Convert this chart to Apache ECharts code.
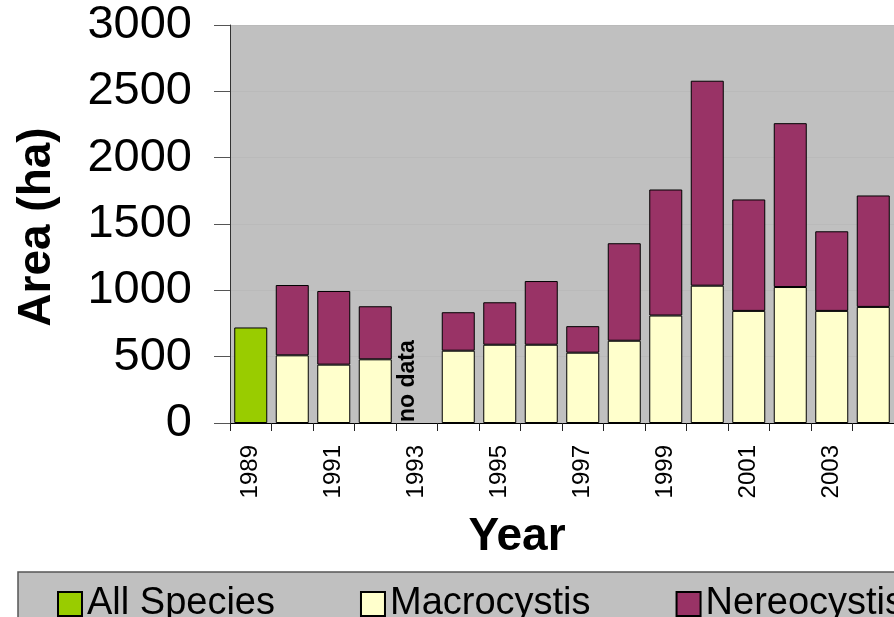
<!DOCTYPE html>
<html>
<head>
<meta charset="utf-8">
<script src="https://cdn.jsdelivr.net/npm/echarts@6/dist/echarts.min.js"></script>
<style>
  html, body { margin: 0; padding: 0; background: #ffffff; }
  #chart { width: 894px; height: 617px; }
</style>
</head>
<body>
<div id="chart"></div>
<script>
// Kelp canopy area by year (ha)
const years = ['1989', '1990', '1991', '1992', '1993', '1994', '1995', '1996',
               '1997', '1998', '1999', '2000', '2001', '2002', '2003', '2004'];
const allSpecies  = [720, null, null, null, null, null, null, null, null, null, null, null, null, null, null, null];
const macrocystis = [null, 510, 440, 480, null, 545, 590, 590, 530, 620, 810, 1035, 845, 1025, 845, 875];
const nereocystis = [null, 530, 555, 400, null, 290, 320, 480, 200, 735, 950, 1545, 840, 1235, 600, 840];
const noDataYear = '1993';
const yTicks = { min: 0, max: 3000, step: 500 };

const FONT = '"Liberation Sans", Arial, Helvetica, sans-serif';
const chart = echarts.init(document.getElementById('chart'));

const toData = arr => arr.map(v => (v === null ? '-' : v));
const barStyle = color => ({ color: color, borderColor: '#000000', borderWidth: 1 });

chart.setOption({
  animation: false,
  backgroundColor: '#ffffff',
  textStyle: { fontFamily: FONT, color: '#000000' },
  grid: {
    left: 230, right: 0, top: 25, bottom: 194,
    show: true, backgroundColor: '#c0c0c0', borderWidth: 0
  },
  legend: {
    left: 18, top: 572, width: 2000,
    padding: [13, 30, 16, 39],
    itemGap: 85, itemWidth: 24, itemHeight: 24,
    icon: 'rect',
    backgroundColor: '#c0c0c0', borderColor: '#555555', borderWidth: 1.5,
    textStyle: { fontFamily: FONT, fontSize: 38, lineHeight: 30, color: '#000000' },
    data: ['All Species', 'Macrocystis', 'Nereocystis']
  },
  xAxis: {
    type: 'category',
    data: years,
    axisLine: { lineStyle: { color: '#000000', width: 1 } },
    axisTick: { show: true, interval: 0, length: 8, lineStyle: { color: '#222222' } },
    axisLabel: { interval: 1, rotate: 90, margin: 22, fontSize: 24, color: '#000000', fontFamily: FONT },
    splitLine: { show: false }
  },
  yAxis: {
    type: 'value',
    min: yTicks.min, max: yTicks.max, interval: yTicks.step,
    axisLine: { show: true, lineStyle: { color: '#333333', width: 1 } },
    axisTick: { show: true, length: 16, lineStyle: { color: '#555555' } },
    axisLabel: { margin: 38, fontSize: 47, color: '#000000', fontFamily: FONT, padding: [8, 0, 0, 0],
                 formatter: v => String(v) },
    splitLine: { show: true, lineStyle: { color: '#bababa', width: 1 } }
  },
  series: [
    { name: 'All Species', type: 'bar', stack: 'area', barWidth: 33,
      data: toData(allSpecies), itemStyle: barStyle('#99cc00') },
    { name: 'Macrocystis', type: 'bar', stack: 'area', barWidth: 33,
      data: toData(macrocystis), itemStyle: barStyle('#ffffcc') },
    { name: 'Nereocystis', type: 'bar', stack: 'area', barWidth: 33,
      data: toData(nereocystis), itemStyle: barStyle('#993366') }
  ]
});

// Axis titles and the "no data" note for the missing survey year
const noDataPos = chart.convertToPixel({ xAxisIndex: 0, yAxisIndex: 0 }, [noDataYear, 0]);
chart.setOption({
  graphic: [
    { type: 'text', x: 37, y: 227, rotation: Math.PI / 2,
      style: { text: 'Area (ha)', font: 'bold 46px ' + FONT, fill: '#000000',
               align: 'center', verticalAlign: 'middle' } },
    { type: 'text', x: 517, y: 537,
      style: { text: 'Year', font: 'bold 46px ' + FONT, fill: '#000000',
               align: 'center', verticalAlign: 'middle' } },
    { type: 'text', x: noDataPos[0] - 9, y: noDataPos[1] - 1, rotation: Math.PI / 2,
      style: { text: 'no data', font: 'bold 23px ' + FONT, fill: '#000000',
               align: 'left', verticalAlign: 'middle' } }
  ]
});
</script>
</body>
</html>
